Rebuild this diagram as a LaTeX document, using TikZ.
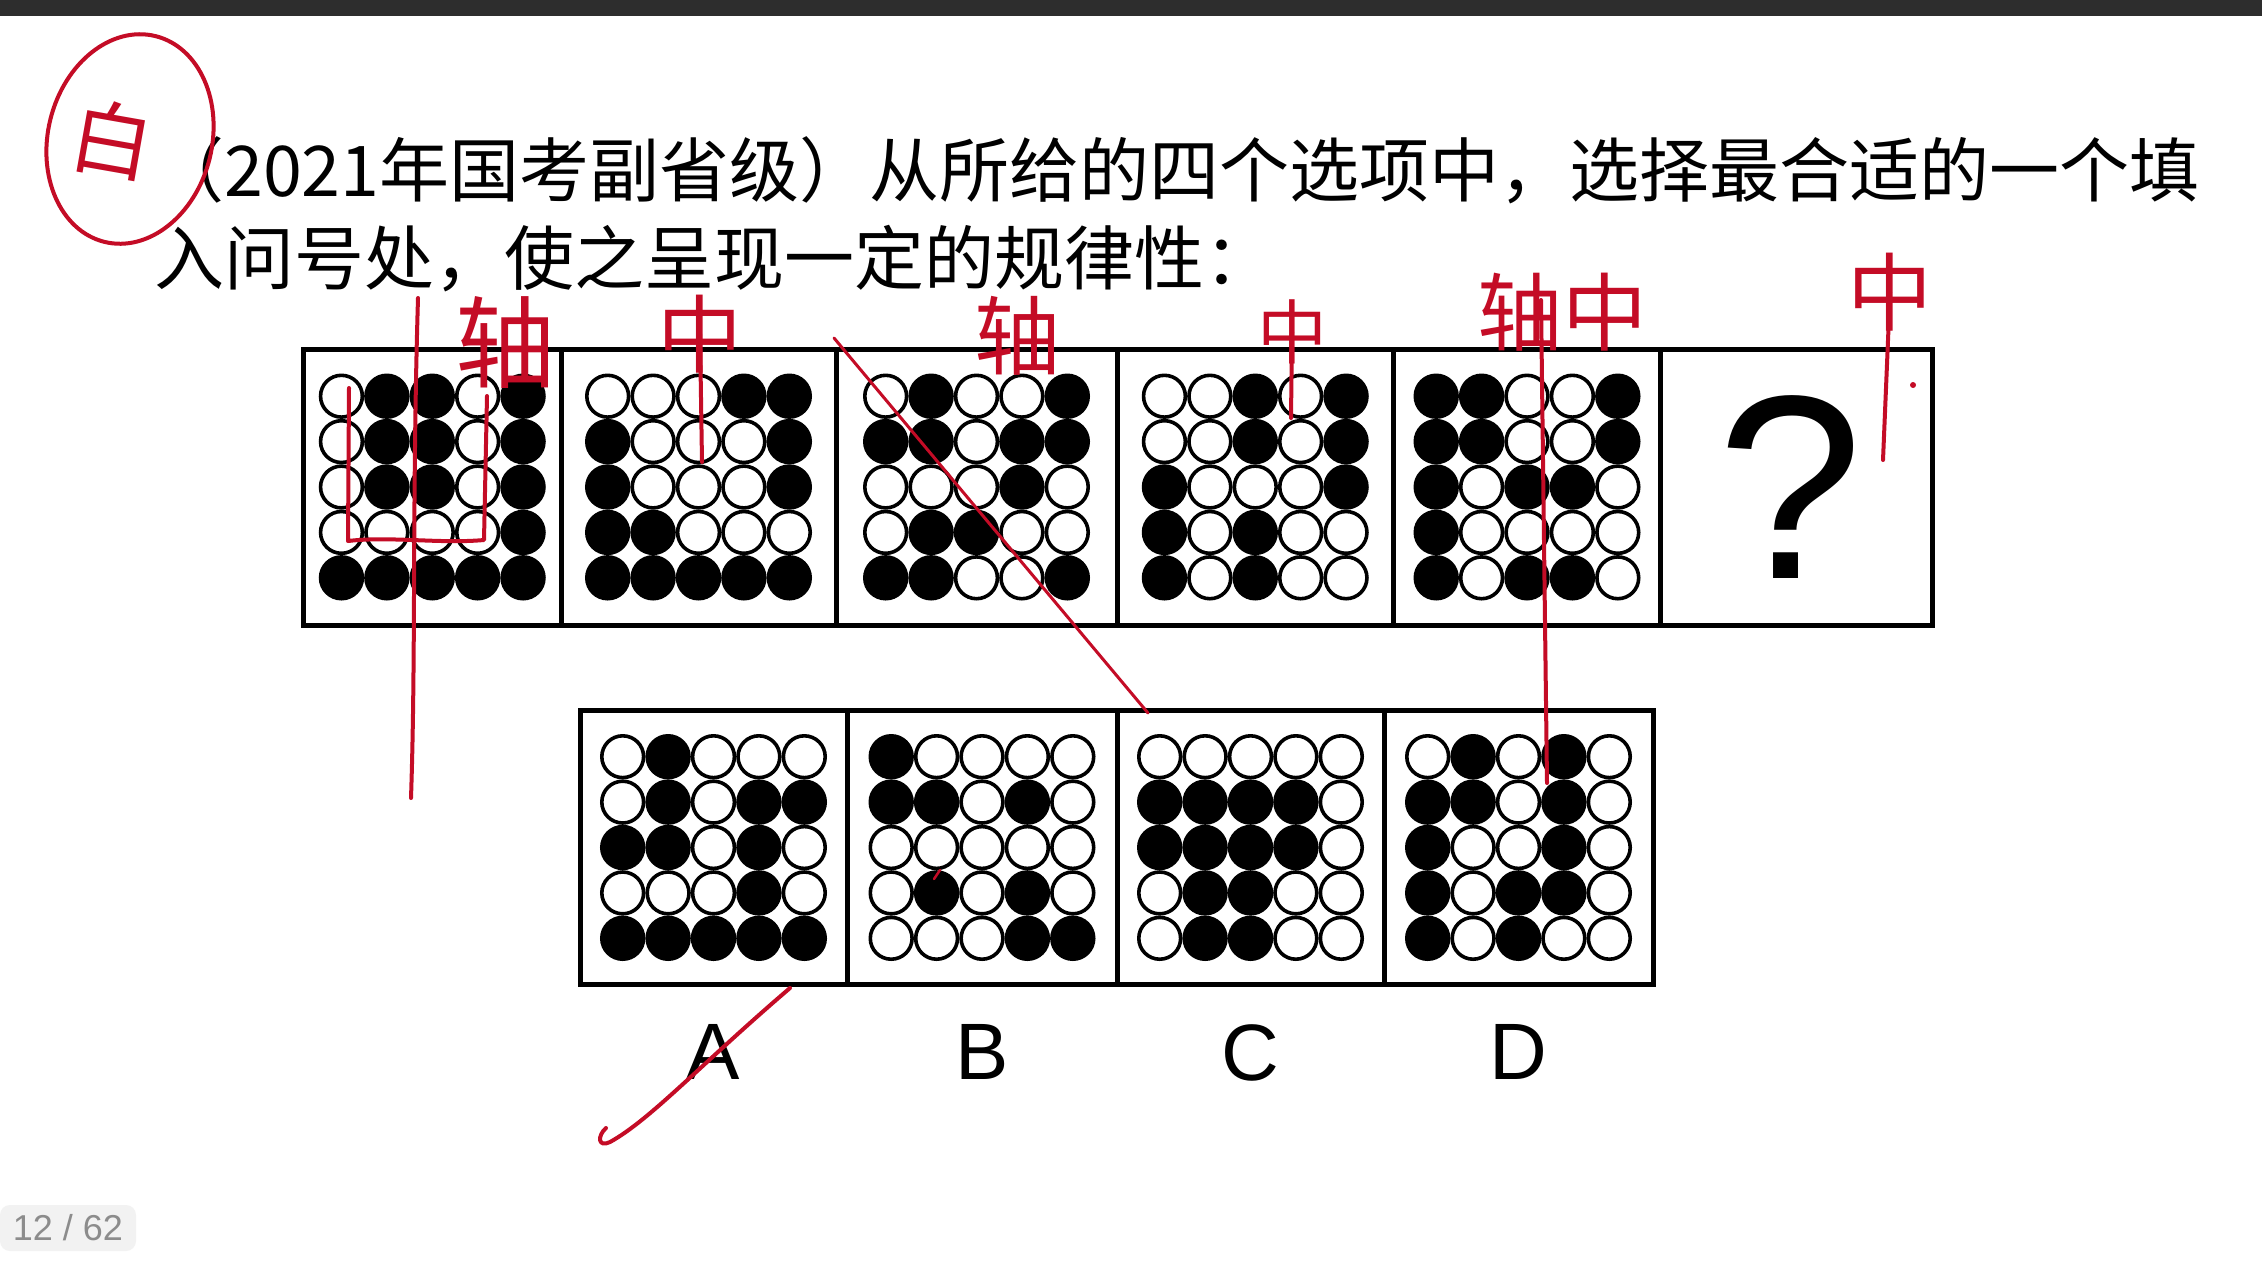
\documentclass[tikz,border=0pt]{standalone}
\usepackage{fontspec}
\setsansfont{Liberation Sans}
\newfontfamily\cjk{Noto Sans CJK SC}
\usetikzlibrary{positioning}
\definecolor{inkred}{RGB}{196,12,38}
\definecolor{barcol}{RGB}{45,45,45}
\newcommand\dotgrid[2]{%
  \foreach \rowbits [count=\rr] in {#2} {
    \foreach \bit [count=\cc] in \rowbits {
      \draw[dot\bit] ([shift={({(\cc-3)*45.4},{(\rr-3)*45.4})}]#1.center) circle[radius=20.9pt];
    }
  }
}

\begin{document}
\begin{tikzpicture}[x=1pt,y=-1pt,
  frame/.style={draw=black,line width=5pt,inner sep=0pt,outer sep=0pt,minimum height=276pt},
  dot0/.style={draw=black,line width=3.6pt,fill=white},
  dot1/.style={draw=black,line width=3.6pt,fill=black},
  stem/.style={font=\cjk\fontsize{70}{84}\selectfont,inner sep=0pt},
  optlabel/.style={font=\sffamily\fontsize{80}{80}\selectfont,inner sep=0pt},
  pager/.style={fill=black!5,rounded corners=10pt,text=black!45,font=\sffamily\fontsize{36}{36}\selectfont,
    minimum width=136pt,minimum height=46pt,inner sep=0pt},
  hand/.style={draw=inkred,line width=4pt,line cap=round,line join=round},
  handtext/.style={text=inkred,font=\cjk\fontsize{#1}{#1}\selectfont,inner sep=0pt}]
	\useasboundingbox (0,0) rectangle (2262,1270);
	\fill[white] (0,0) rectangle (2262,1270);
	\fill[barcol] (0,0) rectangle (2262,16);

	\node[stem,anchor=base west] (q1) at (154,196) {（2021年国考副省级）从所给的四个选项中，选择最合适的一个填};
	\node[stem,anchor=base west] (q2) at (154,284) {入问号处，使之呈现一定的规律性：};

	\node[frame,minimum width=257.5pt] (p1) at (432.25,487) {};
	\node[frame,minimum width=275pt] (p2) at (698.5,487) {};
	\node[frame,minimum width=281pt] (p3) at (976.5,487) {};
	\node[frame,minimum width=276.5pt] (p4) at (1255.25,487) {};
	\node[frame,minimum width=267pt] (p5) at (1527,487) {};
	\node[frame,minimum width=271.5pt] (p6) at (1796.25,487) {};

	\node[frame,minimum width=267pt,minimum height=274pt] (optA) at (713.5,847.5) {};
	\node[frame,minimum width=270pt,minimum height=274pt] (optB) at (982,847.5) {};
	\node[frame,minimum width=267pt,minimum height=274pt] (optC) at (1250.5,847.5) {};
	\node[frame,minimum width=269pt,minimum height=274pt] (optD) at (1518.5,847.5) {};

	\dotgrid{p1}{{0,1,1,0,1},{0,1,1,0,1},{0,1,1,0,1},{0,0,0,0,1},{1,1,1,1,1}}
	\dotgrid{p2}{{0,0,0,1,1},{1,0,0,0,1},{1,0,0,0,1},{1,1,0,0,0},{1,1,1,1,1}}
	\dotgrid{p3}{{0,1,0,0,1},{1,1,0,1,1},{0,0,0,1,0},{0,1,1,0,0},{1,1,0,0,1}}
	\dotgrid{p4}{{0,0,1,0,1},{0,0,1,0,1},{1,0,0,0,1},{1,0,1,0,0},{1,0,1,0,0}}
	\dotgrid{p5}{{1,1,0,0,1},{1,1,0,0,1},{1,0,1,1,0},{1,0,0,0,0},{1,0,1,1,0}}
	\node[font=\sffamily\fontsize{262}{262}\selectfont,inner sep=0pt] (qm) at ([xshift=-6pt]p6.center) {?};

	\dotgrid{optA}{{0,1,0,0,0},{0,1,0,1,1},{1,1,0,1,0},{0,0,0,1,0},{1,1,1,1,1}}
	\dotgrid{optB}{{1,0,0,0,0},{1,1,0,1,0},{0,0,0,0,0},{0,1,0,1,0},{0,0,0,1,1}}
	\dotgrid{optC}{{0,0,0,0,0},{1,1,1,1,0},{1,1,1,1,0},{0,1,1,0,0},{0,1,1,0,0}}
	\dotgrid{optD}{{0,1,0,1,0},{1,1,0,1,0},{1,0,0,1,0},{1,0,1,1,0},{1,0,1,0,0}}

	\node[optlabel,below=40pt of optA] (labA) {A};
	\node[optlabel,below=40pt of optB] (labB) {B};
	\node[optlabel,below=40pt of optC] (labC) {C};
	\node[optlabel,below=40pt of optD] (labD) {D};

	\node[pager] (pg) at (68,1228) {12 / 62};

	\draw[hand,rotate around={-14:(130,139)}] (130,139) ellipse[x radius=82pt,y radius=106pt];
	\node[handtext=82,rotate=-10] (mark) at (112,140) {白};
	\node[handtext=100] (hw1) at (505,342) {轴};
	\node[handtext=85] (hw2) at (700,334) {中};
	\node[handtext=86] (hw3) at (1017,336) {轴};
	\node[handtext=70] (hw4) at (1292,332) {中};
	\node[handtext=85] (hw5) at (1562,312) {轴中};
	\node[handtext=85] (hw6) at (1890,292) {中};
	\draw[hand] (hw2.center) -- (702,462);
	\draw[hand] (hw4.center) -- (1291,418);
	\draw[hand] (hw6.center) -- (1883,460);
	\fill[inkred] (1913,385) circle[radius=3pt];
	\draw[hand] (418,298) .. controls (412,500) and (416,650) .. (411,798);
	\draw[hand] (349,388) -- (348,541) .. controls (390,536) and (440,544) .. (484,540) -- (487,396);
	\draw[hand,line width=3pt] (834,338) -- (1148,713);
	\draw[hand] (1541,300) -- (1547,783);
	\draw[hand,line width=2.5pt] (934,879) -- (940,870);
	\draw[hand] (790,988) .. controls (700,1065) and (650,1120) .. (610,1142) .. controls (598,1148) and (597,1136) .. (606,1128);
\end{tikzpicture}
\end{document}
